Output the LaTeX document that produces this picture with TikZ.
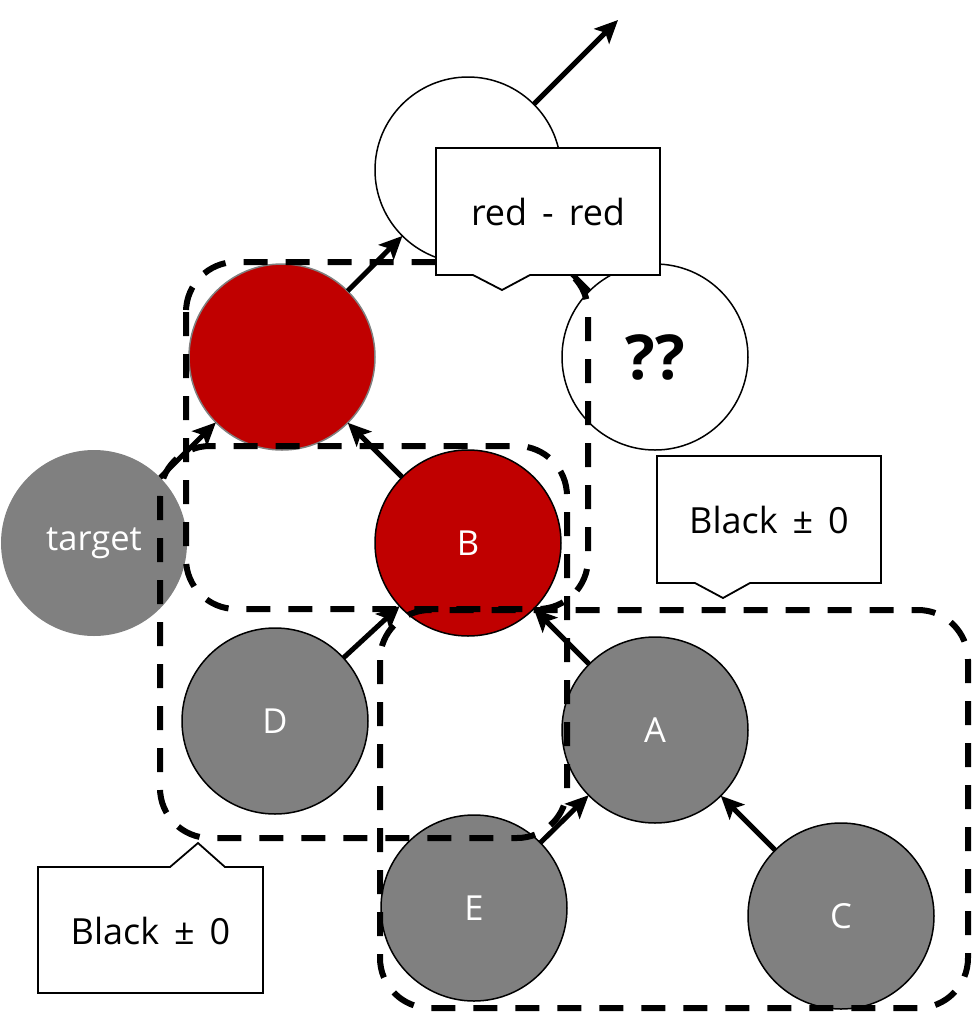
\documentclass[tikz,border=0pt]{standalone}
\usepackage{fontspec}
\setmainfont{Open Sans}
\newfontfamily\lblfont[WordSpace=1.6]{Open Sans}
\usetikzlibrary{arrows.meta,calc}
\definecolor{dred}{RGB}{192,0,0}
\definecolor{mgray}{RGB}{128,128,128}
\begin{document}
\begin{tikzpicture}[x=1pt,y=-1pt,
  nd/.style={circle, minimum size=186pt, inner sep=0pt, outer sep=0pt, line width=1.5pt, font=\fontsize{34.5}{40}\selectfont},
  graynd/.style={nd, fill=mgray, draw=black, text=white},
  rednd/.style={nd, fill=dred, text=white},
  whitend/.style={nd, fill=white, draw=black, font=\fontsize{62}{70}\selectfont\bfseries},
  arr/.style={line width=5pt, -{Stealth[length=23pt,width=21pt,inset=5pt]}},
  grp/.style={line width=6pt, dash pattern=on 24pt off 18pt, rounded corners=50pt},
  lbl/.style={font=\lblfont\fontsize{36}{42}\selectfont, inner sep=0pt},
  callout/.style={draw=black, fill=white, line width=1.8pt, line join=miter}
]
\useasboundingbox (0,0) rectangle (972,1013);
% circles
\node[whitend] (top) at (468,170) {??};
\node[rednd, draw=mgray] (red) at (282,357) {};
\node[whitend] (qq) at (655,357) {??};
\node[graynd, draw=none] (target) at (94,543) {target};
\node[rednd, draw=black] (B) at (468,543) {B};
\node[graynd] (D) at (275,721) {D};
\node[graynd] (A) at (655,730) {A};
\node[graynd] (E) at (474,908) {E};
\node[graynd] (C) at (841,916) {C};
% arrows
\coordinate (out) at (618,20);
\draw[arr] (top) -- (out);
\draw[arr] (red) -- (top);
\draw[arr] (qq) -- (top);
\draw[arr] (target) -- (red);
\draw[arr] (B) -- (red);
\draw[arr] (D) -- (B);
\draw[arr] (A) -- (B);
\draw[arr] (E) -- (A);
\draw[arr] (C) -- (A);
% dashed groups
\draw[grp] (186,262) rectangle (588,609);
\draw[grp] (160,446) rectangle (567,838);
\draw[grp] (380,610) rectangle (968,1008);
% callouts
\draw[callout] (436,148) -- (660,148) -- (660,275) -- (530,275) -- (502,290) -- (473,275) -- (436,275) -- cycle;
\node[lbl] (rr) at (548,212) {red - red};
\draw[callout] (657,456) -- (881,456) -- (881,583) -- (750,583) -- (723,598) -- (695,583) -- (657,583) -- cycle;
\node[lbl] (bk1) at (769,520) {Black ± 0};
\draw[callout] (38,867) -- (170,867) -- (198,843) -- (225,867) -- (263,867) -- (263,993) -- (38,993) -- cycle;
\node[lbl] (bk2) at (150.5,931) {Black ± 0};
\end{tikzpicture}
\end{document}
